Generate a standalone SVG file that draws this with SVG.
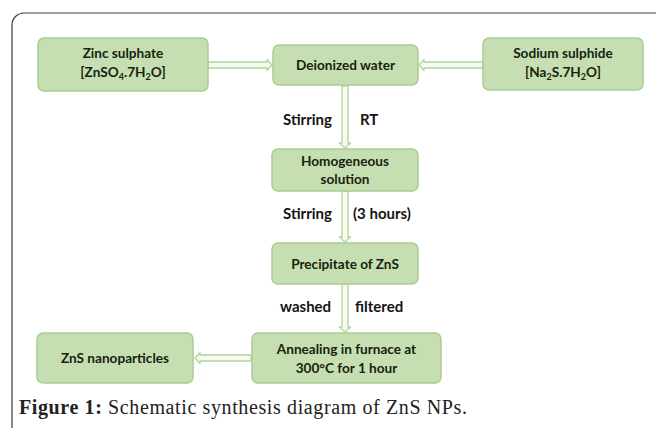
<svg xmlns="http://www.w3.org/2000/svg" width="656" height="428" viewBox="0 0 656 428">
<style>
.box{fill:#c5dfb2;stroke:#aacb93;stroke-width:1.5}
.t{font-family:Lato,"Open Sans","Liberation Sans",sans-serif;font-weight:bold;font-size:13.6px;fill:#18220f;text-anchor:middle}
.l{font-family:Lato,"Open Sans","Liberation Sans",sans-serif;font-weight:bold;font-size:15px;fill:#141414}
.arr{fill:#f6faef;stroke:#b3d49c;stroke-width:1.3;stroke-linejoin:round}
.cap{font-family:"Liberation Serif",serif;font-size:20px;fill:#222}
</style>
<rect width="656" height="428" fill="#fff"/>
<path d="M12,428 V25 A12,12 0 0 1 24,13 H656" fill="none" stroke="#3a3a3a" stroke-width="1.2"/>
<g id="connectors">
  <path class="arr" d="M208,62 H267 V59.5 L272,65 L267,70.5 V68 H208 Z"/>
  <path class="arr" d="M483,62 H424 V59.5 L419,65 L424,70.5 V68 H483 Z"/>
  <path class="arr" d="M342,86 V143 H339.5 L345,148 L350.5,143 H348 V86 Z"/>
  <path class="arr" d="M342,191 V237 H339.5 L345,242 L350.5,237 H348 V191 Z"/>
  <path class="arr" d="M342,284 V327 H339.5 L345,332 L350.5,327 H348 V284 Z"/>
  <path class="arr" d="M251,355 H200 V352.5 L195,358 L200,363.5 V361 H251 Z"/>
</g>
<g id="zinc"><rect class="box" x="38" y="38" width="170" height="53" rx="6"/>
<text class="t" x="123" y="58">Zinc sulphate</text>
<text class="t" x="123" y="77">[ZnSO<tspan font-size="9" dy="3">4</tspan><tspan dy="-3">.7H</tspan><tspan font-size="9" dy="3">2</tspan><tspan dy="-3">O]</tspan></text></g>
<g id="water"><rect class="box" x="273" y="45" width="145" height="40" rx="6"/>
<text class="t" x="345.5" y="70">Deionized water</text></g>
<g id="sodium"><rect class="box" x="483" y="38" width="160" height="52" rx="6"/>
<text class="t" x="563" y="58">Sodium sulphide</text>
<text class="t" x="563" y="77">[Na<tspan font-size="9" dy="3">2</tspan><tspan dy="-3">S.7H</tspan><tspan font-size="9" dy="3">2</tspan><tspan dy="-3">O]</tspan></text></g>
<g id="homog"><rect class="box" x="272" y="149" width="146" height="42" rx="6"/>
<text class="t" x="345" y="166">Homogeneous</text>
<text class="t" x="345" y="183.5">solution</text></g>
<g id="precip"><rect class="box" x="272" y="243" width="146" height="41" rx="6"/>
<text class="t" x="345" y="268.5">Precipitate of ZnS</text></g>
<g id="anneal"><rect class="box" x="252" y="333" width="189" height="50" rx="6"/>
<text class="t" x="346.5" y="353.5">Annealing in furnace at</text>
<text class="t" x="346.5" y="372.5">300°C for 1 hour</text></g>
<g id="nano"><rect class="box" x="37" y="333" width="156" height="50" rx="6"/>
<text class="t" x="115" y="363">ZnS nanoparticles</text></g>
<g id="labels">
<text class="l" x="283" y="125">Stirring</text>
<text class="l" x="360" y="125">RT</text>
<text class="l" x="283" y="219">Stirring</text>
<text class="l" x="353" y="219">(3 hours)</text>
<text class="l" x="280" y="312">washed</text>
<text class="l" x="355" y="312">filtered</text>
</g>
<text class="cap" x="19" y="414" textLength="448" lengthAdjust="spacing"><tspan font-weight="bold">Figure 1:</tspan> Schematic synthesis diagram of ZnS NPs.</text>
</svg>
